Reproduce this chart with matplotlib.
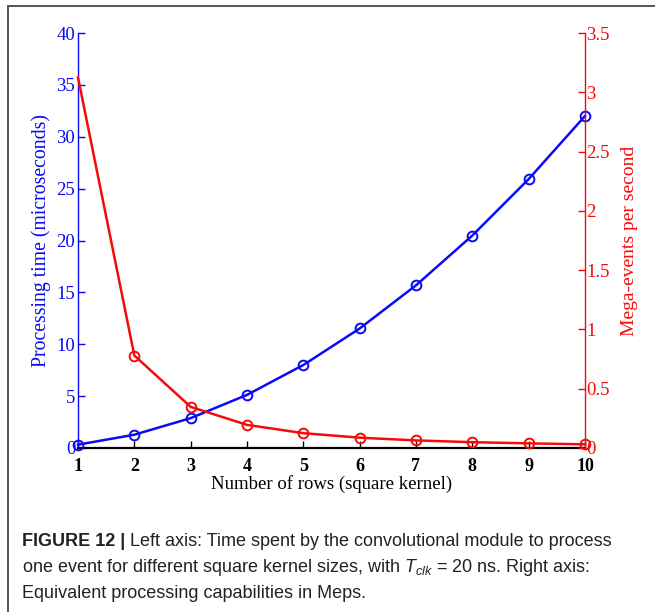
import matplotlib as mpl
import matplotlib.pyplot as plt
from matplotlib.patches import Rectangle

mpl.rcParams.update(
    {
        "font.family": "serif",
        "font.serif": ["Liberation Serif", "DejaVu Serif"],
        "mathtext.fontset": "custom",
        "mathtext.rm": "Liberation Sans",
        "mathtext.it": "Liberation Sans:italic",
        "figure.facecolor": "white",
    }
)

rows = [1, 2, 3, 4, 5, 6, 7, 8, 9, 10]
time_us = [0.32, 1.28, 2.88, 5.12, 8.0, 11.52, 15.68, 20.48, 25.92, 32.0]
meps = [3.125, 0.78, 0.347, 0.195, 0.125, 0.087, 0.064, 0.049, 0.039, 0.031]

left_ticks = [0, 5, 10, 15, 20, 25, 30, 35, 40]
right_ticks = [0, 0.5, 1, 1.5, 2, 2.5, 3, 3.5]
right_labels = ["0", "0.5", "1", "1.5", "2", "2.5", "3", "3.5"]

blue = "#0a0af5"
red = "#f50a0a"

fig = plt.figure(figsize=(6.55, 6.12), dpi=100)

# outer frame of the figure panel
fig.add_artist(
    Rectangle(
        (8 / 655, -0.1), 1.2, 1 - 6 / 612 + 0.1,
        transform=fig.transFigure, facecolor="none",
        edgecolor="#555555", linewidth=1.4,
    )
)

ax = fig.add_axes([78 / 655, 1 - 448 / 612, 507 / 655, 415 / 612])
ax2 = ax.twinx()

ax.plot(rows, time_us, color=blue, linewidth=1.8, marker="o",
        markersize=7, markerfacecolor="none", markeredgewidth=1.4,
        clip_on=False, zorder=3)
ax2.plot(rows, meps, color=red, linewidth=1.8, marker="o",
         markersize=7, markerfacecolor="none", markeredgewidth=1.4,
         markevery=list(range(1, 10)), clip_on=False, zorder=3)

ax.set_xlim(1, 10)
ax.set_ylim(0, 40)
ax2.set_ylim(0, 3.5)
ax.set_xticks(rows)
ax.set_yticks(left_ticks)
ax2.set_yticks(right_ticks)
ax2.set_yticklabels(right_labels)

for a in (ax, ax2):
    a.spines["top"].set_visible(False)
    a.patch.set_visible(False)
ax.spines["right"].set_visible(False)
ax2.spines["left"].set_visible(False)
ax2.spines["bottom"].set_visible(False)
ax.spines["left"].set_color(blue)
ax.spines["left"].set_linewidth(1.0)
ax.spines["bottom"].set_color("black")
ax.spines["bottom"].set_linewidth(1.6)
ax2.spines["right"].set_color(red)
ax2.spines["right"].set_linewidth(1.0)

ax.tick_params(axis="y", direction="in", colors=blue, labelsize=13.5,
               length=5, width=1.0, pad=2)
ax2.tick_params(axis="y", direction="in", colors=red, labelsize=13.5,
                length=5, width=1.0, pad=1)
ax.tick_params(axis="x", direction="in", colors="black", labelsize=13,
               length=5, width=1.0, pad=7)
for lbl in ax.get_xticklabels():
    lbl.set_fontweight("bold")

ax.set_ylabel("Processing time (microseconds)", color=blue, fontsize=14.2,
              labelpad=4)
ax2.set_ylabel("Mega-events per second", color=red, fontsize=14,
               labelpad=8)
ax.set_xlabel("Number of rows (square kernel)", color="black", fontsize=13.5,
              labelpad=0)

# caption
cap_kw = dict(family="Liberation Sans", fontsize=13.0, color="#222222",
              va="baseline", ha="left")
x0 = 22 / 655
bold = fig.text(x0, 1 - 546 / 612, "FIGURE 12 | ", fontweight="bold", **cap_kw)
renderer = fig.canvas.get_renderer()
bb = bold.get_window_extent(renderer=renderer)
fig.text(bb.x1 / fig.bbox.width, 1 - 546 / 612,
         "Left axis: Time spent by the convolutional module to process",
         **cap_kw)
fig.text(x0, 1 - 572 / 612,
         r"one event for different square kernel sizes, with $T_{clk}$ = 20 ns. Right axis:",
         **cap_kw)
fig.text(x0, 1 - 598 / 612, "Equivalent processing capabilities in Meps.",
         **cap_kw)

fig.savefig("out.png", dpi=100)
